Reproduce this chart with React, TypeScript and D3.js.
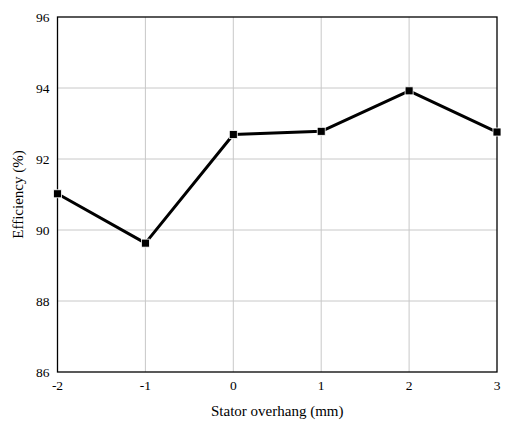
import React, { useEffect, useRef } from "react";
import * as d3 from "d3";

const overhang = [-2, -1, 0, 1, 2, 3];
const efficiency = [91.02, 89.63, 92.69, 92.78, 93.92, 92.76];
const yTicks = [86, 88, 90, 92, 94, 96];

const App = () => {
  const ref = useRef<SVGSVGElement | null>(null);

  useEffect(() => {
    const svg = d3.select(ref.current);
    svg.selectAll("*").remove();

    const margin = { top: 17, right: 8, bottom: 54, left: 57.5 };
    const width = 505;
    const height = 426;

    const x = d3.scaleLinear().domain([-2, 3]).range([margin.left, width - margin.right]);
    const y = d3.scaleLinear().domain([86, 96]).range([height - margin.bottom, margin.top]);

    const g = svg.append("g").attr("font-family", "Liberation Serif, Times New Roman, Times, serif");

    // grid
    g.selectAll("line.vgrid")
      .data(overhang.slice(1, -1))
      .join("line")
      .attr("x1", d => x(d))
      .attr("x2", d => x(d))
      .attr("y1", y(86))
      .attr("y2", y(96))
      .attr("stroke", "#c8c8c8")
      .attr("stroke-width", 1);
    g.selectAll("line.hgrid")
      .data(yTicks.slice(1, -1))
      .join("line")
      .attr("x1", x(-2))
      .attr("x2", x(3))
      .attr("y1", d => y(d))
      .attr("y2", d => y(d))
      .attr("stroke", "#c8c8c8")
      .attr("stroke-width", 1);

    // frame
    g.append("rect")
      .attr("x", x(-2))
      .attr("y", y(96))
      .attr("width", x(3) - x(-2))
      .attr("height", y(86) - y(96))
      .attr("fill", "none")
      .attr("stroke", "#000")
      .attr("stroke-width", 1.3);

    // tick labels
    g.selectAll("text.ytick")
      .data(yTicks)
      .join("text")
      .attr("x", x(-2) - 8)
      .attr("y", d => y(d))
      .attr("dy", "0.35em")
      .attr("text-anchor", "end")
      .attr("font-size", 13.5)
      .text(d => d);
    g.selectAll("text.xtick")
      .data(overhang)
      .join("text")
      .attr("x", d => x(d))
      .attr("y", y(86) + 18)
      .attr("text-anchor", "middle")
      .attr("font-size", 13.5)
      .text(d => d);

    // axis titles
    g.append("text")
      .attr("x", (x(-2) + x(3)) / 2)
      .attr("y", 416)
      .attr("text-anchor", "middle")
      .attr("font-size", 15)
      .text("Stator overhang (mm)");
    g.append("text")
      .attr("transform", `translate(23,${(y(86) + y(96)) / 2}) rotate(-90)`)
      .attr("text-anchor", "middle")
      .attr("font-size", 15)
      .text("Efficiency (%)");

    // line
    const line = d3
      .line<number>()
      .x((d, i) => x(overhang[i]))
      .y(d => y(d));
    g.append("path")
      .attr("d", line(efficiency))
      .attr("fill", "none")
      .attr("stroke", "#000")
      .attr("stroke-width", 3)
      .attr("stroke-linejoin", "round");

    // markers
    g.selectAll("rect.marker")
      .data(efficiency)
      .join("rect")
      .attr("x", (d, i) => x(overhang[i]) - 4)
      .attr("y", d => y(d) - 4)
      .attr("width", 8)
      .attr("height", 8)
      .attr("fill", "#000")
      .attr("stroke", "#fff")
      .attr("stroke-width", 0.8);
  }, []);

  return (
    <svg
      ref={ref}
      width={505}
      height={426}
      style={{ position: "absolute", left: 0, top: 0, background: "#fff" }}
    />
  );
};

export default App;
